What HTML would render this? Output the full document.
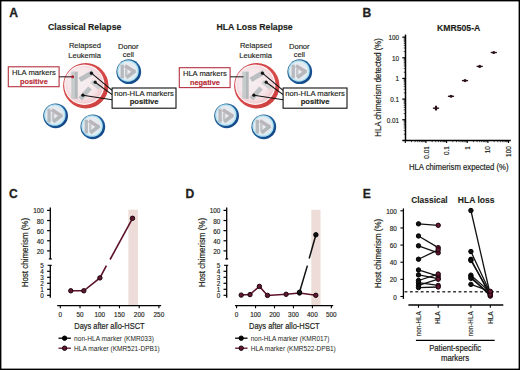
<!DOCTYPE html><html><head><meta charset="utf-8"><style>html,body{margin:0;padding:0;background:#fff;}svg{display:block;}</style></head><body>
<svg width="520" height="370" viewBox="0 0 520 370" font-family='"Liberation Sans", sans-serif'>
<defs><radialGradient id="pinkg" cx="0.45" cy="0.45" r="0.55"><stop offset="0" stop-color="#f5eef0"/><stop offset="0.7" stop-color="#f6e6e9"/><stop offset="1" stop-color="#f1ccd1"/></radialGradient><linearGradient id="redg" x1="0" y1="0" x2="1" y2="1"><stop offset="0" stop-color="#c83a44"/><stop offset="0.5" stop-color="#d84a4a"/><stop offset="1" stop-color="#cc3c3c"/></linearGradient><linearGradient id="blueg" x1="0" y1="0" x2="1" y2="1"><stop offset="0" stop-color="#2f5f80"/><stop offset="0.55" stop-color="#1d5c9c"/><stop offset="1" stop-color="#0d3c7c"/></linearGradient><radialGradient id="dong" cx="0.45" cy="0.45" r="0.6"><stop offset="0" stop-color="#eceef3"/><stop offset="0.75" stop-color="#e4eaf0"/><stop offset="1" stop-color="#d6eef6"/></radialGradient></defs>
<rect x="0" y="0" width="520" height="370" fill="#fff"/>
<text x="9.2" y="16.7" font-size="12.1" font-weight="bold" text-anchor="start" fill="#231f20" stroke="#231f20" stroke-width="0.3">A</text>
<text x="48.1" y="29.8" font-size="8.7" font-weight="bold" text-anchor="start" fill="#231f20" textLength="73.2" lengthAdjust="spacingAndGlyphs" stroke="#231f20" stroke-width="0.15">Classical Relapse</text>
<text x="84.9" y="48.3" font-size="7.8" text-anchor="middle" fill="#231f20" textLength="32.0" lengthAdjust="spacingAndGlyphs" stroke="#231f20" stroke-width="0.15">Relapsed</text>
<text x="84.6" y="57.6" font-size="7.8" text-anchor="middle" fill="#231f20" textLength="32.5" lengthAdjust="spacingAndGlyphs" stroke="#231f20" stroke-width="0.15">Leukemia</text>
<text x="128.3" y="48.6" font-size="7.8" text-anchor="middle" fill="#231f20" textLength="20.7" lengthAdjust="spacingAndGlyphs" stroke="#231f20" stroke-width="0.15">Donor</text>
<text x="128.4" y="57.0" font-size="7.8" text-anchor="middle" fill="#231f20" textLength="11.2" lengthAdjust="spacingAndGlyphs" stroke="#231f20" stroke-width="0.15">cell</text>
<rect x="8.30" y="66.80" width="50.8" height="19.9" fill="#fff" stroke="#b4323f" stroke-width="1.1"/>
<text x="33.900000000000006" y="74.7" font-size="7.8" text-anchor="middle" fill="#231f20" textLength="44.0" lengthAdjust="spacingAndGlyphs" stroke="#231f20" stroke-width="0.15">HLA markers</text>
<text x="33.900000000000006" y="83.6" font-size="7.5" font-weight="bold" text-anchor="middle" fill="#b82a36" textLength="27.9" lengthAdjust="spacingAndGlyphs" stroke="#b82a36" stroke-width="0.15">positive</text>
<circle cx="85.80" cy="85.70" r="22.70" fill="url(#redg)"/>
<circle cx="84.30" cy="84.70" r="20.20" fill="#fdf4f5"/>
<circle cx="84.30" cy="84.70" r="19.00" fill="url(#pinkg)"/>
<line x1="72.90" y1="71.60" x2="72.90" y2="98.80" stroke="#c6cbcc" stroke-width="3.20"/><line x1="76.10" y1="71.60" x2="76.10" y2="98.80" stroke="#b3b8ba" stroke-width="3.20"/><line x1="79.80" y1="79.80" x2="93.10" y2="72.20" stroke="#bcbfc2" stroke-width="5.00"/><line x1="91.60" y1="81.40" x2="99.80" y2="88.00" stroke="#cdd0d3" stroke-width="4.40"/><line x1="80.30" y1="98.80" x2="90.00" y2="88.00" stroke="#bec1c4" stroke-width="4.80"/>
<circle cx="128.75" cy="71.70" r="12.40" fill="url(#blueg)"/>
<circle cx="128.00" cy="70.95" r="10.75" fill="#aee2f2"/>
<circle cx="128.00" cy="70.95" r="9.50" fill="url(#dong)"/>
<line x1="122.25" y1="64.70" x2="122.25" y2="78.30" stroke="#b6b9bd" stroke-width="3.30"/><line x1="126.25" y1="68.50" x2="126.25" y2="76.50" stroke="#c2c4c8" stroke-width="2.40"/><line x1="124.95" y1="65.70" x2="135.15" y2="72.10" stroke="#bab6bb" stroke-width="3.50"/><line x1="126.35" y1="77.70" x2="135.15" y2="70.90" stroke="#b5b8bb" stroke-width="3.50"/>
<circle cx="55.60" cy="115.80" r="12.40" fill="url(#blueg)"/>
<circle cx="54.85" cy="115.05" r="10.75" fill="#aee2f2"/>
<circle cx="54.85" cy="115.05" r="9.50" fill="url(#dong)"/>
<line x1="49.10" y1="108.80" x2="49.10" y2="122.40" stroke="#b6b9bd" stroke-width="3.30"/><line x1="53.10" y1="112.60" x2="53.10" y2="120.60" stroke="#c2c4c8" stroke-width="2.40"/><line x1="51.80" y1="109.80" x2="62.00" y2="116.20" stroke="#bab6bb" stroke-width="3.50"/><line x1="53.20" y1="121.80" x2="62.00" y2="115.00" stroke="#b5b8bb" stroke-width="3.50"/>
<circle cx="92.80" cy="126.80" r="12.40" fill="url(#blueg)"/>
<circle cx="92.05" cy="126.05" r="10.75" fill="#aee2f2"/>
<circle cx="92.05" cy="126.05" r="9.50" fill="url(#dong)"/>
<line x1="86.30" y1="119.80" x2="86.30" y2="133.40" stroke="#b6b9bd" stroke-width="3.30"/><line x1="90.30" y1="123.60" x2="90.30" y2="131.60" stroke="#c2c4c8" stroke-width="2.40"/><line x1="89.00" y1="120.80" x2="99.20" y2="127.20" stroke="#bab6bb" stroke-width="3.50"/><line x1="90.40" y1="132.80" x2="99.20" y2="126.00" stroke="#b5b8bb" stroke-width="3.50"/>
<line x1="59.10" y1="76.80" x2="72.50" y2="76.80" stroke="#3a1c20" stroke-width="1.1"/>
<circle cx="72.60" cy="76.80" r="1.50" fill="#b3212f"/>
<line x1="91.40" y1="73.20" x2="112.10" y2="90.30" stroke="#111" stroke-width="1.1"/>
<circle cx="91.40" cy="73.20" r="1.60" fill="#111"/>
<line x1="95.20" y1="82.20" x2="112.10" y2="94.60" stroke="#111" stroke-width="1.1"/>
<circle cx="95.20" cy="82.20" r="1.60" fill="#111"/>
<line x1="82.90" y1="95.20" x2="112.10" y2="99.80" stroke="#111" stroke-width="1.1"/>
<circle cx="82.90" cy="95.20" r="1.60" fill="#111"/>
<rect x="112.10" y="88.0" width="63.9" height="20.2" fill="#fff" stroke="#111" stroke-width="1.1"/>
<text x="144.1" y="95.6" font-size="7.8" text-anchor="middle" fill="#231f20" textLength="59.7" lengthAdjust="spacingAndGlyphs" stroke="#231f20" stroke-width="0.15">non-HLA markers</text>
<text x="144.1" y="104.2" font-size="7.5" font-weight="bold" text-anchor="middle" fill="#231f20" textLength="28.8" lengthAdjust="spacingAndGlyphs" stroke="#231f20" stroke-width="0.15">positive</text>
<text x="216.5" y="29.9" font-size="8.7" font-weight="bold" text-anchor="start" fill="#231f20" textLength="76.2" lengthAdjust="spacingAndGlyphs" stroke="#231f20" stroke-width="0.15">HLA Loss Relapse</text>
<text x="255.9" y="48.3" font-size="7.8" text-anchor="middle" fill="#231f20" textLength="32.0" lengthAdjust="spacingAndGlyphs" stroke="#231f20" stroke-width="0.15">Relapsed</text>
<text x="255.6" y="57.6" font-size="7.8" text-anchor="middle" fill="#231f20" textLength="32.5" lengthAdjust="spacingAndGlyphs" stroke="#231f20" stroke-width="0.15">Leukemia</text>
<text x="299.3" y="48.6" font-size="7.8" text-anchor="middle" fill="#231f20" textLength="20.7" lengthAdjust="spacingAndGlyphs" stroke="#231f20" stroke-width="0.15">Donor</text>
<text x="299.4" y="57.0" font-size="7.8" text-anchor="middle" fill="#231f20" textLength="11.2" lengthAdjust="spacingAndGlyphs" stroke="#231f20" stroke-width="0.15">cell</text>
<rect x="179.30" y="67.70" width="50.8" height="19.9" fill="#fff" stroke="#b4323f" stroke-width="1.1"/>
<text x="204.9" y="75.60000000000001" font-size="7.8" text-anchor="middle" fill="#231f20" textLength="44.0" lengthAdjust="spacingAndGlyphs" stroke="#231f20" stroke-width="0.15">HLA markers</text>
<text x="204.9" y="84.5" font-size="7.5" font-weight="bold" text-anchor="middle" fill="#b82a36" textLength="30.0" lengthAdjust="spacingAndGlyphs" stroke="#b82a36" stroke-width="0.15">negative</text>
<circle cx="256.80" cy="85.70" r="22.70" fill="url(#redg)"/>
<circle cx="255.30" cy="84.70" r="20.20" fill="#fdf4f5"/>
<circle cx="255.30" cy="84.70" r="19.00" fill="url(#pinkg)"/>
<line x1="243.90" y1="71.60" x2="243.90" y2="98.80" stroke="#c6cbcc" stroke-width="3.20"/><line x1="247.10" y1="71.60" x2="247.10" y2="98.80" stroke="#b3b8ba" stroke-width="3.20"/><line x1="250.80" y1="79.80" x2="264.10" y2="72.20" stroke="#bcbfc2" stroke-width="5.00"/><line x1="262.60" y1="81.40" x2="270.80" y2="88.00" stroke="#cdd0d3" stroke-width="4.40"/><line x1="251.30" y1="98.80" x2="261.00" y2="88.00" stroke="#bec1c4" stroke-width="4.80"/>
<circle cx="299.75" cy="71.70" r="12.40" fill="url(#blueg)"/>
<circle cx="299.00" cy="70.95" r="10.75" fill="#aee2f2"/>
<circle cx="299.00" cy="70.95" r="9.50" fill="url(#dong)"/>
<line x1="293.25" y1="64.70" x2="293.25" y2="78.30" stroke="#b6b9bd" stroke-width="3.30"/><line x1="297.25" y1="68.50" x2="297.25" y2="76.50" stroke="#c2c4c8" stroke-width="2.40"/><line x1="295.95" y1="65.70" x2="306.15" y2="72.10" stroke="#bab6bb" stroke-width="3.50"/><line x1="297.35" y1="77.70" x2="306.15" y2="70.90" stroke="#b5b8bb" stroke-width="3.50"/>
<circle cx="226.60" cy="115.80" r="12.40" fill="url(#blueg)"/>
<circle cx="225.85" cy="115.05" r="10.75" fill="#aee2f2"/>
<circle cx="225.85" cy="115.05" r="9.50" fill="url(#dong)"/>
<line x1="220.10" y1="108.80" x2="220.10" y2="122.40" stroke="#b6b9bd" stroke-width="3.30"/><line x1="224.10" y1="112.60" x2="224.10" y2="120.60" stroke="#c2c4c8" stroke-width="2.40"/><line x1="222.80" y1="109.80" x2="233.00" y2="116.20" stroke="#bab6bb" stroke-width="3.50"/><line x1="224.20" y1="121.80" x2="233.00" y2="115.00" stroke="#b5b8bb" stroke-width="3.50"/>
<circle cx="263.80" cy="126.80" r="12.40" fill="url(#blueg)"/>
<circle cx="263.05" cy="126.05" r="10.75" fill="#aee2f2"/>
<circle cx="263.05" cy="126.05" r="9.50" fill="url(#dong)"/>
<line x1="257.30" y1="119.80" x2="257.30" y2="133.40" stroke="#b6b9bd" stroke-width="3.30"/><line x1="261.30" y1="123.60" x2="261.30" y2="131.60" stroke="#c2c4c8" stroke-width="2.40"/><line x1="260.00" y1="120.80" x2="270.20" y2="127.20" stroke="#bab6bb" stroke-width="3.50"/><line x1="261.40" y1="132.80" x2="270.20" y2="126.00" stroke="#b5b8bb" stroke-width="3.50"/>
<line x1="230.10" y1="76.80" x2="243.50" y2="76.80" stroke="#2a2a2a" stroke-width="1.1"/>
<line x1="262.40" y1="73.20" x2="283.10" y2="90.30" stroke="#111" stroke-width="1.1"/>
<circle cx="262.40" cy="73.20" r="1.60" fill="#111"/>
<line x1="266.20" y1="82.20" x2="283.10" y2="94.60" stroke="#111" stroke-width="1.1"/>
<circle cx="266.20" cy="82.20" r="1.60" fill="#111"/>
<line x1="253.90" y1="95.20" x2="283.10" y2="99.80" stroke="#111" stroke-width="1.1"/>
<circle cx="253.90" cy="95.20" r="1.60" fill="#111"/>
<rect x="283.10" y="88.0" width="63.9" height="20.2" fill="#fff" stroke="#111" stroke-width="1.1"/>
<text x="315.1" y="95.6" font-size="7.8" text-anchor="middle" fill="#231f20" textLength="59.7" lengthAdjust="spacingAndGlyphs" stroke="#231f20" stroke-width="0.15">non-HLA markers</text>
<text x="315.1" y="104.2" font-size="7.5" font-weight="bold" text-anchor="middle" fill="#231f20" textLength="28.8" lengthAdjust="spacingAndGlyphs" stroke="#231f20" stroke-width="0.15">positive</text>
<text x="362.4" y="16.7" font-size="12.1" font-weight="bold" text-anchor="start" fill="#231f20" stroke="#231f20" stroke-width="0.3">B</text>
<text x="458.7" y="30.8" font-size="8.6" font-weight="bold" text-anchor="middle" fill="#231f20" textLength="43.2" lengthAdjust="spacingAndGlyphs" stroke="#231f20" stroke-width="0.15">KMR505-A</text>
<line x1="405.50" y1="34.60" x2="405.50" y2="141.00" stroke="#000" stroke-width="1.5"/>
<line x1="402.30" y1="140.40" x2="510.80" y2="140.40" stroke="#000" stroke-width="1.5"/>
<line x1="403.70" y1="134.18" x2="405.50" y2="134.18" stroke="#000" stroke-width="0.7"/>
<line x1="403.70" y1="130.55" x2="405.50" y2="130.55" stroke="#000" stroke-width="0.7"/>
<line x1="403.70" y1="127.97" x2="405.50" y2="127.97" stroke="#000" stroke-width="0.7"/>
<line x1="403.70" y1="125.97" x2="405.50" y2="125.97" stroke="#000" stroke-width="0.7"/>
<line x1="403.70" y1="124.33" x2="405.50" y2="124.33" stroke="#000" stroke-width="0.7"/>
<line x1="403.70" y1="122.95" x2="405.50" y2="122.95" stroke="#000" stroke-width="0.7"/>
<line x1="403.70" y1="121.75" x2="405.50" y2="121.75" stroke="#000" stroke-width="0.7"/>
<line x1="403.70" y1="120.69" x2="405.50" y2="120.69" stroke="#000" stroke-width="0.7"/>
<line x1="405.30" y1="140.40" x2="405.30" y2="143.00" stroke="#000" stroke-width="1.1"/>
<line x1="411.52" y1="140.40" x2="411.52" y2="142.20" stroke="#000" stroke-width="0.7"/>
<line x1="415.15" y1="140.40" x2="415.15" y2="142.20" stroke="#000" stroke-width="0.7"/>
<line x1="417.73" y1="140.40" x2="417.73" y2="142.20" stroke="#000" stroke-width="0.7"/>
<line x1="419.73" y1="140.40" x2="419.73" y2="142.20" stroke="#000" stroke-width="0.7"/>
<line x1="421.37" y1="140.40" x2="421.37" y2="142.20" stroke="#000" stroke-width="0.7"/>
<line x1="422.75" y1="140.40" x2="422.75" y2="142.20" stroke="#000" stroke-width="0.7"/>
<line x1="423.95" y1="140.40" x2="423.95" y2="142.20" stroke="#000" stroke-width="0.7"/>
<line x1="425.01" y1="140.40" x2="425.01" y2="142.20" stroke="#000" stroke-width="0.7"/>
<line x1="402.30" y1="119.75" x2="405.50" y2="119.75" stroke="#000" stroke-width="1.2"/>
<text x="399.1" y="122.75" font-size="6.4" text-anchor="end" fill="#231f20" stroke="#231f20" stroke-width="0.15">0.01</text>
<line x1="403.70" y1="113.53" x2="405.50" y2="113.53" stroke="#000" stroke-width="0.7"/>
<line x1="403.70" y1="109.90" x2="405.50" y2="109.90" stroke="#000" stroke-width="0.7"/>
<line x1="403.70" y1="107.32" x2="405.50" y2="107.32" stroke="#000" stroke-width="0.7"/>
<line x1="403.70" y1="105.32" x2="405.50" y2="105.32" stroke="#000" stroke-width="0.7"/>
<line x1="403.70" y1="103.68" x2="405.50" y2="103.68" stroke="#000" stroke-width="0.7"/>
<line x1="403.70" y1="102.30" x2="405.50" y2="102.30" stroke="#000" stroke-width="0.7"/>
<line x1="403.70" y1="101.10" x2="405.50" y2="101.10" stroke="#000" stroke-width="0.7"/>
<line x1="403.70" y1="100.04" x2="405.50" y2="100.04" stroke="#000" stroke-width="0.7"/>
<line x1="425.95" y1="140.40" x2="425.95" y2="143.00" stroke="#000" stroke-width="1.1"/>
<text x="428.55" y="146.2" font-size="6.4" text-anchor="end" fill="#231f20" transform="rotate(-90 428.55 146.2)" stroke="#231f20" stroke-width="0.15">0.01</text>
<line x1="432.17" y1="140.40" x2="432.17" y2="142.20" stroke="#000" stroke-width="0.7"/>
<line x1="435.80" y1="140.40" x2="435.80" y2="142.20" stroke="#000" stroke-width="0.7"/>
<line x1="438.38" y1="140.40" x2="438.38" y2="142.20" stroke="#000" stroke-width="0.7"/>
<line x1="440.38" y1="140.40" x2="440.38" y2="142.20" stroke="#000" stroke-width="0.7"/>
<line x1="442.02" y1="140.40" x2="442.02" y2="142.20" stroke="#000" stroke-width="0.7"/>
<line x1="443.40" y1="140.40" x2="443.40" y2="142.20" stroke="#000" stroke-width="0.7"/>
<line x1="444.60" y1="140.40" x2="444.60" y2="142.20" stroke="#000" stroke-width="0.7"/>
<line x1="445.66" y1="140.40" x2="445.66" y2="142.20" stroke="#000" stroke-width="0.7"/>
<line x1="402.30" y1="99.10" x2="405.50" y2="99.10" stroke="#000" stroke-width="1.2"/>
<text x="399.1" y="102.10000000000001" font-size="6.4" text-anchor="end" fill="#231f20" stroke="#231f20" stroke-width="0.15">0.1</text>
<line x1="403.70" y1="92.88" x2="405.50" y2="92.88" stroke="#000" stroke-width="0.7"/>
<line x1="403.70" y1="89.25" x2="405.50" y2="89.25" stroke="#000" stroke-width="0.7"/>
<line x1="403.70" y1="86.67" x2="405.50" y2="86.67" stroke="#000" stroke-width="0.7"/>
<line x1="403.70" y1="84.67" x2="405.50" y2="84.67" stroke="#000" stroke-width="0.7"/>
<line x1="403.70" y1="83.03" x2="405.50" y2="83.03" stroke="#000" stroke-width="0.7"/>
<line x1="403.70" y1="81.65" x2="405.50" y2="81.65" stroke="#000" stroke-width="0.7"/>
<line x1="403.70" y1="80.45" x2="405.50" y2="80.45" stroke="#000" stroke-width="0.7"/>
<line x1="403.70" y1="79.39" x2="405.50" y2="79.39" stroke="#000" stroke-width="0.7"/>
<line x1="446.60" y1="140.40" x2="446.60" y2="143.00" stroke="#000" stroke-width="1.1"/>
<text x="449.20000000000005" y="146.2" font-size="6.4" text-anchor="end" fill="#231f20" transform="rotate(-90 449.20000000000005 146.2)" stroke="#231f20" stroke-width="0.15">0.1</text>
<line x1="452.82" y1="140.40" x2="452.82" y2="142.20" stroke="#000" stroke-width="0.7"/>
<line x1="456.45" y1="140.40" x2="456.45" y2="142.20" stroke="#000" stroke-width="0.7"/>
<line x1="459.03" y1="140.40" x2="459.03" y2="142.20" stroke="#000" stroke-width="0.7"/>
<line x1="461.03" y1="140.40" x2="461.03" y2="142.20" stroke="#000" stroke-width="0.7"/>
<line x1="462.67" y1="140.40" x2="462.67" y2="142.20" stroke="#000" stroke-width="0.7"/>
<line x1="464.05" y1="140.40" x2="464.05" y2="142.20" stroke="#000" stroke-width="0.7"/>
<line x1="465.25" y1="140.40" x2="465.25" y2="142.20" stroke="#000" stroke-width="0.7"/>
<line x1="466.31" y1="140.40" x2="466.31" y2="142.20" stroke="#000" stroke-width="0.7"/>
<line x1="402.30" y1="78.45" x2="405.50" y2="78.45" stroke="#000" stroke-width="1.2"/>
<text x="399.1" y="81.45000000000002" font-size="6.4" text-anchor="end" fill="#231f20" stroke="#231f20" stroke-width="0.15">1</text>
<line x1="403.70" y1="72.23" x2="405.50" y2="72.23" stroke="#000" stroke-width="0.7"/>
<line x1="403.70" y1="68.60" x2="405.50" y2="68.60" stroke="#000" stroke-width="0.7"/>
<line x1="403.70" y1="66.02" x2="405.50" y2="66.02" stroke="#000" stroke-width="0.7"/>
<line x1="403.70" y1="64.02" x2="405.50" y2="64.02" stroke="#000" stroke-width="0.7"/>
<line x1="403.70" y1="62.38" x2="405.50" y2="62.38" stroke="#000" stroke-width="0.7"/>
<line x1="403.70" y1="61.00" x2="405.50" y2="61.00" stroke="#000" stroke-width="0.7"/>
<line x1="403.70" y1="59.80" x2="405.50" y2="59.80" stroke="#000" stroke-width="0.7"/>
<line x1="403.70" y1="58.74" x2="405.50" y2="58.74" stroke="#000" stroke-width="0.7"/>
<line x1="467.25" y1="140.40" x2="467.25" y2="143.00" stroke="#000" stroke-width="1.1"/>
<text x="469.85" y="146.2" font-size="6.4" text-anchor="end" fill="#231f20" transform="rotate(-90 469.85 146.2)" stroke="#231f20" stroke-width="0.15">1</text>
<line x1="473.47" y1="140.40" x2="473.47" y2="142.20" stroke="#000" stroke-width="0.7"/>
<line x1="477.10" y1="140.40" x2="477.10" y2="142.20" stroke="#000" stroke-width="0.7"/>
<line x1="479.68" y1="140.40" x2="479.68" y2="142.20" stroke="#000" stroke-width="0.7"/>
<line x1="481.68" y1="140.40" x2="481.68" y2="142.20" stroke="#000" stroke-width="0.7"/>
<line x1="483.32" y1="140.40" x2="483.32" y2="142.20" stroke="#000" stroke-width="0.7"/>
<line x1="484.70" y1="140.40" x2="484.70" y2="142.20" stroke="#000" stroke-width="0.7"/>
<line x1="485.90" y1="140.40" x2="485.90" y2="142.20" stroke="#000" stroke-width="0.7"/>
<line x1="486.96" y1="140.40" x2="486.96" y2="142.20" stroke="#000" stroke-width="0.7"/>
<line x1="402.30" y1="57.80" x2="405.50" y2="57.80" stroke="#000" stroke-width="1.2"/>
<text x="399.1" y="60.80000000000001" font-size="6.4" text-anchor="end" fill="#231f20" stroke="#231f20" stroke-width="0.15">10</text>
<line x1="403.70" y1="51.58" x2="405.50" y2="51.58" stroke="#000" stroke-width="0.7"/>
<line x1="403.70" y1="47.95" x2="405.50" y2="47.95" stroke="#000" stroke-width="0.7"/>
<line x1="403.70" y1="45.37" x2="405.50" y2="45.37" stroke="#000" stroke-width="0.7"/>
<line x1="403.70" y1="43.37" x2="405.50" y2="43.37" stroke="#000" stroke-width="0.7"/>
<line x1="403.70" y1="41.73" x2="405.50" y2="41.73" stroke="#000" stroke-width="0.7"/>
<line x1="403.70" y1="40.35" x2="405.50" y2="40.35" stroke="#000" stroke-width="0.7"/>
<line x1="403.70" y1="39.15" x2="405.50" y2="39.15" stroke="#000" stroke-width="0.7"/>
<line x1="403.70" y1="38.09" x2="405.50" y2="38.09" stroke="#000" stroke-width="0.7"/>
<line x1="487.90" y1="140.40" x2="487.90" y2="143.00" stroke="#000" stroke-width="1.1"/>
<text x="490.5" y="146.2" font-size="6.4" text-anchor="end" fill="#231f20" transform="rotate(-90 490.5 146.2)" stroke="#231f20" stroke-width="0.15">10</text>
<line x1="494.12" y1="140.40" x2="494.12" y2="142.20" stroke="#000" stroke-width="0.7"/>
<line x1="497.75" y1="140.40" x2="497.75" y2="142.20" stroke="#000" stroke-width="0.7"/>
<line x1="500.33" y1="140.40" x2="500.33" y2="142.20" stroke="#000" stroke-width="0.7"/>
<line x1="502.33" y1="140.40" x2="502.33" y2="142.20" stroke="#000" stroke-width="0.7"/>
<line x1="503.97" y1="140.40" x2="503.97" y2="142.20" stroke="#000" stroke-width="0.7"/>
<line x1="505.35" y1="140.40" x2="505.35" y2="142.20" stroke="#000" stroke-width="0.7"/>
<line x1="506.55" y1="140.40" x2="506.55" y2="142.20" stroke="#000" stroke-width="0.7"/>
<line x1="507.61" y1="140.40" x2="507.61" y2="142.20" stroke="#000" stroke-width="0.7"/>
<line x1="402.30" y1="37.15" x2="405.50" y2="37.15" stroke="#000" stroke-width="1.2"/>
<text x="399.1" y="40.150000000000006" font-size="6.4" text-anchor="end" fill="#231f20" stroke="#231f20" stroke-width="0.15">100</text>
<line x1="508.55" y1="140.40" x2="508.55" y2="143.00" stroke="#000" stroke-width="1.1"/>
<text x="511.15000000000003" y="146.2" font-size="6.4" text-anchor="end" fill="#231f20" transform="rotate(-90 511.15000000000003 146.2)" stroke="#231f20" stroke-width="0.15">100</text>
<text x="458.7" y="169.9" font-size="8.7" text-anchor="middle" fill="#231f20" textLength="99.6" lengthAdjust="spacingAndGlyphs" stroke="#231f20" stroke-width="0.2">HLA chimerism expected (%)</text>
<text x="381.3" y="87.4" font-size="8.7" text-anchor="middle" fill="#231f20" transform="rotate(-90 381.3 87.4)" textLength="98.5" lengthAdjust="spacingAndGlyphs" stroke="#231f20" stroke-width="0.2">HLA chimerism detected (%)</text>
<line x1="432.90" y1="108.20" x2="439.10" y2="108.20" stroke="#2a1218" stroke-width="1.3"/>
<line x1="436.00" y1="105.80" x2="436.00" y2="110.60" stroke="#2a1218" stroke-width="2.0"/>
<circle cx="436" cy="108.2" r="1.55" fill="#2a1218"/>
<line x1="447.90" y1="96.30" x2="454.10" y2="96.30" stroke="#2a1218" stroke-width="1.3"/>
<circle cx="451" cy="96.3" r="1.55" fill="#2a1218"/>
<line x1="461.90" y1="80.60" x2="468.10" y2="80.60" stroke="#2a1218" stroke-width="1.3"/>
<circle cx="465" cy="80.6" r="1.55" fill="#2a1218"/>
<line x1="476.60" y1="66.40" x2="482.80" y2="66.40" stroke="#2a1218" stroke-width="1.3"/>
<circle cx="479.7" cy="66.4" r="1.55" fill="#2a1218"/>
<line x1="490.70" y1="52.50" x2="496.90" y2="52.50" stroke="#2a1218" stroke-width="1.3"/>
<circle cx="493.8" cy="52.5" r="1.55" fill="#2a1218"/>
<text x="8.9" y="198.2" font-size="12.1" font-weight="bold" text-anchor="start" fill="#231f20" stroke="#231f20" stroke-width="0.3">C</text>
<rect x="128.4" y="209.7" width="9.5" height="95.3" fill="#eddcd8"/>
<line x1="50.30" y1="207.40" x2="50.30" y2="259.30" stroke="#000" stroke-width="1.3"/>
<line x1="48.80" y1="258.90" x2="51.80" y2="258.90" stroke="#000" stroke-width="1.2"/>
<line x1="47.10" y1="210.40" x2="50.30" y2="210.40" stroke="#000" stroke-width="1.2"/>
<text x="43.9" y="213.4" font-size="6.4" text-anchor="end" fill="#231f20" stroke="#231f20" stroke-width="0.15">100</text>
<line x1="47.10" y1="220.52" x2="50.30" y2="220.52" stroke="#000" stroke-width="1.2"/>
<text x="43.9" y="223.52" font-size="6.4" text-anchor="end" fill="#231f20" stroke="#231f20" stroke-width="0.15">80</text>
<line x1="47.10" y1="230.64" x2="50.30" y2="230.64" stroke="#000" stroke-width="1.2"/>
<text x="43.9" y="233.64000000000001" font-size="6.4" text-anchor="end" fill="#231f20" stroke="#231f20" stroke-width="0.15">60</text>
<line x1="47.10" y1="240.76" x2="50.30" y2="240.76" stroke="#000" stroke-width="1.2"/>
<text x="43.9" y="243.76" font-size="6.4" text-anchor="end" fill="#231f20" stroke="#231f20" stroke-width="0.15">40</text>
<line x1="47.10" y1="250.88" x2="50.30" y2="250.88" stroke="#000" stroke-width="1.2"/>
<text x="43.9" y="253.88" font-size="6.4" text-anchor="end" fill="#231f20" stroke="#231f20" stroke-width="0.15">20</text>
<line x1="50.30" y1="265.00" x2="50.30" y2="297.80" stroke="#000" stroke-width="1.3"/>
<line x1="47.60" y1="265.30" x2="51.80" y2="265.30" stroke="#000" stroke-width="1.1"/>
<line x1="47.10" y1="295.30" x2="50.30" y2="295.30" stroke="#000" stroke-width="1.2"/>
<text x="43.9" y="298.3" font-size="6.4" text-anchor="end" fill="#231f20" stroke="#231f20" stroke-width="0.15">0</text>
<line x1="47.10" y1="289.30" x2="50.30" y2="289.30" stroke="#000" stroke-width="1.2"/>
<text x="43.9" y="292.3" font-size="6.4" text-anchor="end" fill="#231f20" stroke="#231f20" stroke-width="0.15">1</text>
<line x1="47.10" y1="283.30" x2="50.30" y2="283.30" stroke="#000" stroke-width="1.2"/>
<text x="43.9" y="286.3" font-size="6.4" text-anchor="end" fill="#231f20" stroke="#231f20" stroke-width="0.15">2</text>
<line x1="47.10" y1="277.30" x2="50.30" y2="277.30" stroke="#000" stroke-width="1.2"/>
<text x="43.9" y="280.3" font-size="6.4" text-anchor="end" fill="#231f20" stroke="#231f20" stroke-width="0.15">3</text>
<line x1="47.10" y1="271.30" x2="50.30" y2="271.30" stroke="#000" stroke-width="1.2"/>
<text x="43.9" y="274.3" font-size="6.4" text-anchor="end" fill="#231f20" stroke="#231f20" stroke-width="0.15">4</text>
<text x="43.9" y="268.3" font-size="6.4" text-anchor="end" fill="#231f20" stroke="#231f20" stroke-width="0.15">5</text>
<text x="27.9" y="252.6" font-size="9.0" text-anchor="middle" fill="#231f20" transform="rotate(-90 27.9 252.6)" textLength="69.4" lengthAdjust="spacingAndGlyphs" stroke="#231f20" stroke-width="0.2">Host chimerism (%)</text>
<line x1="57.20" y1="305.60" x2="161.10" y2="305.60" stroke="#000" stroke-width="1.3"/>
<line x1="60.30" y1="305.60" x2="60.30" y2="308.30" stroke="#000" stroke-width="1.1"/>
<text x="60.3" y="317.1" font-size="6.4" text-anchor="middle" fill="#231f20" stroke="#231f20" stroke-width="0.15">0</text>
<line x1="80.02" y1="305.60" x2="80.02" y2="308.30" stroke="#000" stroke-width="1.1"/>
<text x="80.02" y="317.1" font-size="6.4" text-anchor="middle" fill="#231f20" stroke="#231f20" stroke-width="0.15">50</text>
<line x1="99.74" y1="305.60" x2="99.74" y2="308.30" stroke="#000" stroke-width="1.1"/>
<text x="99.74" y="317.1" font-size="6.4" text-anchor="middle" fill="#231f20" stroke="#231f20" stroke-width="0.15">100</text>
<line x1="119.46" y1="305.60" x2="119.46" y2="308.30" stroke="#000" stroke-width="1.1"/>
<text x="119.46" y="317.1" font-size="6.4" text-anchor="middle" fill="#231f20" stroke="#231f20" stroke-width="0.15">150</text>
<line x1="139.18" y1="305.60" x2="139.18" y2="308.30" stroke="#000" stroke-width="1.1"/>
<text x="139.18" y="317.1" font-size="6.4" text-anchor="middle" fill="#231f20" stroke="#231f20" stroke-width="0.15">200</text>
<line x1="158.90" y1="305.60" x2="158.90" y2="308.30" stroke="#000" stroke-width="1.1"/>
<text x="158.89999999999998" y="317.1" font-size="6.4" text-anchor="middle" fill="#231f20" stroke="#231f20" stroke-width="0.15">250</text>
<text x="109.45" y="329.1" font-size="9.0" text-anchor="middle" fill="#231f20" textLength="70.3" lengthAdjust="spacingAndGlyphs" stroke="#231f20" stroke-width="0.2">Days after allo-HSCT</text>
<polyline points="70.8,290.8 83.8,290.8 99.9,277.9 106.4,265.6" fill="none" stroke="#5c1229" stroke-width="1.6"/>
<polyline points="110.1,259.5 132.5,218.3" fill="none" stroke="#5c1229" stroke-width="1.6"/>
<circle cx="70.80" cy="290.80" r="2.20" fill="#621733" stroke="#1a0508" stroke-width="1.0"/>
<circle cx="83.80" cy="290.80" r="2.20" fill="#621733" stroke="#1a0508" stroke-width="1.0"/>
<circle cx="99.90" cy="277.90" r="2.20" fill="#621733" stroke="#1a0508" stroke-width="1.0"/>
<circle cx="132.50" cy="218.30" r="2.20" fill="#621733" stroke="#1a0508" stroke-width="1.0"/>
<line x1="58.50" y1="338.20" x2="70.90" y2="338.20" stroke="#000" stroke-width="1.3"/>
<circle cx="64.60" cy="338.20" r="2.20" fill="#000" stroke="#000" stroke-width="1.0"/>
<line x1="58.50" y1="348.20" x2="70.90" y2="348.20" stroke="#5c1229" stroke-width="1.3"/>
<circle cx="64.60" cy="348.20" r="2.20" fill="#621733" stroke="#1a0508" stroke-width="1.0"/>
<text x="74.1" y="340.59999999999997" font-size="6.9" text-anchor="start" fill="#231f20" textLength="79.8" lengthAdjust="spacingAndGlyphs">non-HLA marker (KMR033)</text>
<text x="74.1" y="350.59999999999997" font-size="6.9" text-anchor="start" fill="#231f20" textLength="85.7" lengthAdjust="spacingAndGlyphs">HLA marker (KMR521-DPB1)</text>
<text x="185.6" y="198.2" font-size="12.1" font-weight="bold" text-anchor="start" fill="#231f20" stroke="#231f20" stroke-width="0.3">D</text>
<rect x="311.3" y="209.8" width="9.2" height="95.2" fill="#eddcd8"/>
<line x1="226.70" y1="207.40" x2="226.70" y2="259.30" stroke="#000" stroke-width="1.3"/>
<line x1="225.20" y1="258.90" x2="228.20" y2="258.90" stroke="#000" stroke-width="1.2"/>
<line x1="223.50" y1="210.40" x2="226.70" y2="210.40" stroke="#000" stroke-width="1.2"/>
<text x="220.3" y="213.4" font-size="6.4" text-anchor="end" fill="#231f20" stroke="#231f20" stroke-width="0.15">100</text>
<line x1="223.50" y1="220.52" x2="226.70" y2="220.52" stroke="#000" stroke-width="1.2"/>
<text x="220.3" y="223.52" font-size="6.4" text-anchor="end" fill="#231f20" stroke="#231f20" stroke-width="0.15">80</text>
<line x1="223.50" y1="230.64" x2="226.70" y2="230.64" stroke="#000" stroke-width="1.2"/>
<text x="220.3" y="233.64000000000001" font-size="6.4" text-anchor="end" fill="#231f20" stroke="#231f20" stroke-width="0.15">60</text>
<line x1="223.50" y1="240.76" x2="226.70" y2="240.76" stroke="#000" stroke-width="1.2"/>
<text x="220.3" y="243.76" font-size="6.4" text-anchor="end" fill="#231f20" stroke="#231f20" stroke-width="0.15">40</text>
<line x1="223.50" y1="250.88" x2="226.70" y2="250.88" stroke="#000" stroke-width="1.2"/>
<text x="220.3" y="253.88" font-size="6.4" text-anchor="end" fill="#231f20" stroke="#231f20" stroke-width="0.15">20</text>
<line x1="226.70" y1="265.00" x2="226.70" y2="297.80" stroke="#000" stroke-width="1.3"/>
<line x1="224.00" y1="265.30" x2="228.20" y2="265.30" stroke="#000" stroke-width="1.1"/>
<line x1="223.50" y1="295.30" x2="226.70" y2="295.30" stroke="#000" stroke-width="1.2"/>
<text x="220.3" y="298.3" font-size="6.4" text-anchor="end" fill="#231f20" stroke="#231f20" stroke-width="0.15">0</text>
<line x1="223.50" y1="289.30" x2="226.70" y2="289.30" stroke="#000" stroke-width="1.2"/>
<text x="220.3" y="292.3" font-size="6.4" text-anchor="end" fill="#231f20" stroke="#231f20" stroke-width="0.15">1</text>
<line x1="223.50" y1="283.30" x2="226.70" y2="283.30" stroke="#000" stroke-width="1.2"/>
<text x="220.3" y="286.3" font-size="6.4" text-anchor="end" fill="#231f20" stroke="#231f20" stroke-width="0.15">2</text>
<line x1="223.50" y1="277.30" x2="226.70" y2="277.30" stroke="#000" stroke-width="1.2"/>
<text x="220.3" y="280.3" font-size="6.4" text-anchor="end" fill="#231f20" stroke="#231f20" stroke-width="0.15">3</text>
<line x1="223.50" y1="271.30" x2="226.70" y2="271.30" stroke="#000" stroke-width="1.2"/>
<text x="220.3" y="274.3" font-size="6.4" text-anchor="end" fill="#231f20" stroke="#231f20" stroke-width="0.15">4</text>
<text x="220.3" y="268.3" font-size="6.4" text-anchor="end" fill="#231f20" stroke="#231f20" stroke-width="0.15">5</text>
<text x="204.9" y="252.6" font-size="9.0" text-anchor="middle" fill="#231f20" transform="rotate(-90 204.9 252.6)" textLength="69.4" lengthAdjust="spacingAndGlyphs" stroke="#231f20" stroke-width="0.2">Host chimerism (%)</text>
<line x1="235.00" y1="305.60" x2="333.20" y2="305.60" stroke="#000" stroke-width="1.3"/>
<line x1="236.60" y1="305.60" x2="236.60" y2="308.30" stroke="#000" stroke-width="1.1"/>
<text x="236.6" y="317.1" font-size="6.4" text-anchor="middle" fill="#231f20" stroke="#231f20" stroke-width="0.15">0</text>
<line x1="255.55" y1="305.60" x2="255.55" y2="308.30" stroke="#000" stroke-width="1.1"/>
<text x="255.54999999999998" y="317.1" font-size="6.4" text-anchor="middle" fill="#231f20" stroke="#231f20" stroke-width="0.15">100</text>
<line x1="274.50" y1="305.60" x2="274.50" y2="308.30" stroke="#000" stroke-width="1.1"/>
<text x="274.5" y="317.1" font-size="6.4" text-anchor="middle" fill="#231f20" stroke="#231f20" stroke-width="0.15">200</text>
<line x1="293.45" y1="305.60" x2="293.45" y2="308.30" stroke="#000" stroke-width="1.1"/>
<text x="293.45" y="317.1" font-size="6.4" text-anchor="middle" fill="#231f20" stroke="#231f20" stroke-width="0.15">300</text>
<line x1="312.40" y1="305.60" x2="312.40" y2="308.30" stroke="#000" stroke-width="1.1"/>
<text x="312.4" y="317.1" font-size="6.4" text-anchor="middle" fill="#231f20" stroke="#231f20" stroke-width="0.15">400</text>
<line x1="331.35" y1="305.60" x2="331.35" y2="308.30" stroke="#000" stroke-width="1.1"/>
<text x="331.35" y="317.1" font-size="6.4" text-anchor="middle" fill="#231f20" stroke="#231f20" stroke-width="0.15">500</text>
<text x="284.35" y="329.2" font-size="9.0" text-anchor="middle" fill="#231f20" textLength="70.6" lengthAdjust="spacingAndGlyphs" stroke="#231f20" stroke-width="0.2">Days after allo-HSCT</text>
<polyline points="241.2,295.1 250,294.6 259.4,286.4 267.5,295.4 286.1,294.3 299.5,293.0 315.8,295.3" fill="none" stroke="#5c1229" stroke-width="1.5"/>
<polyline points="299.5,292.3 307.4,265.6" fill="none" stroke="#111" stroke-width="1.5"/>
<polyline points="309.2,258.5 315.9,234.8" fill="none" stroke="#111" stroke-width="1.5"/>
<circle cx="241.20" cy="295.10" r="2.20" fill="#621733" stroke="#1a0508" stroke-width="1.0"/>
<circle cx="250.00" cy="294.60" r="2.20" fill="#621733" stroke="#1a0508" stroke-width="1.0"/>
<circle cx="259.40" cy="286.40" r="2.20" fill="#621733" stroke="#1a0508" stroke-width="1.0"/>
<circle cx="267.50" cy="295.40" r="2.20" fill="#621733" stroke="#1a0508" stroke-width="1.0"/>
<circle cx="286.10" cy="294.30" r="2.20" fill="#621733" stroke="#1a0508" stroke-width="1.0"/>
<circle cx="299.50" cy="293.00" r="2.20" fill="#621733" stroke="#1a0508" stroke-width="1.0"/>
<circle cx="315.80" cy="295.30" r="2.20" fill="#621733" stroke="#1a0508" stroke-width="1.0"/>
<circle cx="299.50" cy="292.30" r="2.20" fill="#1a1a1a" stroke="#000" stroke-width="1.0"/>
<circle cx="315.90" cy="234.80" r="2.20" fill="#111" stroke="#000" stroke-width="1.0"/>
<line x1="235.10" y1="338.20" x2="247.50" y2="338.20" stroke="#000" stroke-width="1.3"/>
<circle cx="241.20" cy="338.20" r="2.20" fill="#000" stroke="#000" stroke-width="1.0"/>
<line x1="235.10" y1="348.20" x2="247.50" y2="348.20" stroke="#5c1229" stroke-width="1.3"/>
<circle cx="241.20" cy="348.20" r="2.20" fill="#621733" stroke="#1a0508" stroke-width="1.0"/>
<text x="250.7" y="340.59999999999997" font-size="6.9" text-anchor="start" fill="#231f20" textLength="78.7" lengthAdjust="spacingAndGlyphs">non-HLA marker (KMR017)</text>
<text x="250.7" y="350.59999999999997" font-size="6.9" text-anchor="start" fill="#231f20" textLength="85.1" lengthAdjust="spacingAndGlyphs">HLA marker (KMR522-DPB1)</text>
<text x="362.7" y="198.1" font-size="12.1" font-weight="bold" text-anchor="start" fill="#231f20" stroke="#231f20" stroke-width="0.3">E</text>
<text x="429.45" y="203.4" font-size="8.6" font-weight="bold" text-anchor="middle" fill="#231f20" textLength="36.5" lengthAdjust="spacingAndGlyphs" stroke="#231f20" stroke-width="0.1">Classical</text>
<text x="476.2" y="203.4" font-size="8.6" font-weight="bold" text-anchor="middle" fill="#231f20" textLength="36.8" lengthAdjust="spacingAndGlyphs" stroke="#231f20" stroke-width="0.1">HLA loss</text>
<line x1="403.40" y1="208.40" x2="403.40" y2="298.90" stroke="#000" stroke-width="1.3"/>
<line x1="400.40" y1="296.50" x2="403.40" y2="296.50" stroke="#000" stroke-width="1.1"/>
<text x="396.9" y="299.5" font-size="6.4" text-anchor="end" fill="#231f20" stroke="#231f20" stroke-width="0.15">0</text>
<line x1="400.40" y1="279.36" x2="403.40" y2="279.36" stroke="#000" stroke-width="1.1"/>
<text x="396.9" y="282.36" font-size="6.4" text-anchor="end" fill="#231f20" stroke="#231f20" stroke-width="0.15">20</text>
<line x1="400.40" y1="262.22" x2="403.40" y2="262.22" stroke="#000" stroke-width="1.1"/>
<text x="396.9" y="265.22" font-size="6.4" text-anchor="end" fill="#231f20" stroke="#231f20" stroke-width="0.15">40</text>
<line x1="400.40" y1="245.08" x2="403.40" y2="245.08" stroke="#000" stroke-width="1.1"/>
<text x="396.9" y="248.07999999999998" font-size="6.4" text-anchor="end" fill="#231f20" stroke="#231f20" stroke-width="0.15">60</text>
<line x1="400.40" y1="227.94" x2="403.40" y2="227.94" stroke="#000" stroke-width="1.1"/>
<text x="396.9" y="230.94" font-size="6.4" text-anchor="end" fill="#231f20" stroke="#231f20" stroke-width="0.15">80</text>
<line x1="400.40" y1="210.80" x2="403.40" y2="210.80" stroke="#000" stroke-width="1.1"/>
<text x="396.9" y="213.8" font-size="6.4" text-anchor="end" fill="#231f20" stroke="#231f20" stroke-width="0.15">100</text>
<text x="380.8" y="253.5" font-size="9.0" text-anchor="middle" fill="#231f20" transform="rotate(-90 380.8 253.5)" textLength="69.4" lengthAdjust="spacingAndGlyphs" stroke="#231f20" stroke-width="0.2">Host chimerism (%)</text>
<line x1="404.5" y1="291.8" x2="499" y2="291.8" stroke="#3c3c3c" stroke-width="1.5" stroke-dasharray="2.9,2.5"/>
<line x1="408.40" y1="305.00" x2="503.30" y2="305.00" stroke="#000" stroke-width="1.3"/>
<line x1="418.50" y1="305.00" x2="418.50" y2="307.80" stroke="#000" stroke-width="1.1"/>
<text x="420.8" y="311.4" font-size="6.8" text-anchor="end" fill="#231f20" transform="rotate(-90 420.8 311.4)" textLength="24.8" lengthAdjust="spacingAndGlyphs" stroke="#231f20" stroke-width="0.15">non-HLA</text>
<line x1="438.20" y1="305.00" x2="438.20" y2="307.80" stroke="#000" stroke-width="1.1"/>
<text x="440.5" y="311.4" font-size="6.8" text-anchor="end" fill="#231f20" transform="rotate(-90 440.5 311.4)" textLength="12.6" lengthAdjust="spacingAndGlyphs" stroke="#231f20" stroke-width="0.15">HLA</text>
<line x1="470.90" y1="305.00" x2="470.90" y2="307.80" stroke="#000" stroke-width="1.1"/>
<text x="473.2" y="311.4" font-size="6.8" text-anchor="end" fill="#231f20" transform="rotate(-90 473.2 311.4)" textLength="24.8" lengthAdjust="spacingAndGlyphs" stroke="#231f20" stroke-width="0.15">non-HLA</text>
<line x1="490.30" y1="305.00" x2="490.30" y2="307.80" stroke="#000" stroke-width="1.1"/>
<text x="492.6" y="311.4" font-size="6.8" text-anchor="end" fill="#231f20" transform="rotate(-90 492.6 311.4)" textLength="12.6" lengthAdjust="spacingAndGlyphs" stroke="#231f20" stroke-width="0.15">HLA</text>
<line x1="415.90" y1="340.30" x2="494.70" y2="340.30" stroke="#000" stroke-width="1.2"/>
<text x="455.2" y="350.9" font-size="8.3" text-anchor="middle" fill="#231f20" textLength="52.0" lengthAdjust="spacingAndGlyphs" stroke="#231f20" stroke-width="0.2">Patient-specific</text>
<text x="455.0" y="360.8" font-size="8.3" text-anchor="middle" fill="#231f20" textLength="28.2" lengthAdjust="spacingAndGlyphs" stroke="#231f20" stroke-width="0.2">markers</text>
<line x1="418.50" y1="223.84" x2="438.20" y2="225.31" stroke="#111" stroke-width="1.3"/>
<line x1="418.50" y1="235.95" x2="438.20" y2="247.63" stroke="#111" stroke-width="1.3"/>
<line x1="418.50" y1="245.81" x2="438.20" y2="252.82" stroke="#111" stroke-width="1.3"/>
<line x1="418.50" y1="259.22" x2="438.20" y2="249.79" stroke="#111" stroke-width="1.3"/>
<line x1="418.50" y1="269.94" x2="438.20" y2="276.17" stroke="#111" stroke-width="1.3"/>
<line x1="418.50" y1="274.88" x2="438.20" y2="278.59" stroke="#111" stroke-width="1.3"/>
<line x1="418.50" y1="280.50" x2="438.20" y2="274.01" stroke="#111" stroke-width="1.3"/>
<line x1="418.50" y1="282.66" x2="438.20" y2="285.43" stroke="#111" stroke-width="1.3"/>
<line x1="418.50" y1="285.43" x2="438.20" y2="279.20" stroke="#111" stroke-width="1.3"/>
<line x1="418.50" y1="287.59" x2="438.20" y2="286.99" stroke="#111" stroke-width="1.3"/>
<circle cx="438.20" cy="225.31" r="2.20" fill="#621733" stroke="#1a0508" stroke-width="1.0"/>
<circle cx="438.20" cy="247.63" r="2.20" fill="#621733" stroke="#1a0508" stroke-width="1.0"/>
<circle cx="438.20" cy="252.82" r="2.20" fill="#621733" stroke="#1a0508" stroke-width="1.0"/>
<circle cx="438.20" cy="249.79" r="2.20" fill="#621733" stroke="#1a0508" stroke-width="1.0"/>
<circle cx="438.20" cy="276.17" r="2.20" fill="#621733" stroke="#1a0508" stroke-width="1.0"/>
<circle cx="438.20" cy="278.59" r="2.20" fill="#621733" stroke="#1a0508" stroke-width="1.0"/>
<circle cx="438.20" cy="274.01" r="2.20" fill="#621733" stroke="#1a0508" stroke-width="1.0"/>
<circle cx="438.20" cy="285.43" r="2.20" fill="#621733" stroke="#1a0508" stroke-width="1.0"/>
<circle cx="438.20" cy="279.20" r="2.20" fill="#621733" stroke="#1a0508" stroke-width="1.0"/>
<circle cx="438.20" cy="286.99" r="2.20" fill="#621733" stroke="#1a0508" stroke-width="1.0"/>
<circle cx="418.50" cy="223.84" r="2.20" fill="#111" stroke="#000" stroke-width="1.0"/>
<circle cx="418.50" cy="235.95" r="2.20" fill="#111" stroke="#000" stroke-width="1.0"/>
<circle cx="418.50" cy="245.81" r="2.20" fill="#111" stroke="#000" stroke-width="1.0"/>
<circle cx="418.50" cy="259.22" r="2.20" fill="#111" stroke="#000" stroke-width="1.0"/>
<circle cx="418.50" cy="269.94" r="2.20" fill="#111" stroke="#000" stroke-width="1.0"/>
<circle cx="418.50" cy="274.88" r="2.20" fill="#111" stroke="#000" stroke-width="1.0"/>
<circle cx="418.50" cy="280.50" r="2.20" fill="#111" stroke="#000" stroke-width="1.0"/>
<circle cx="418.50" cy="282.66" r="2.20" fill="#111" stroke="#000" stroke-width="1.0"/>
<circle cx="418.50" cy="285.43" r="2.20" fill="#111" stroke="#000" stroke-width="1.0"/>
<circle cx="418.50" cy="287.59" r="2.20" fill="#111" stroke="#000" stroke-width="1.0"/>
<line x1="470.90" y1="210.52" x2="490.30" y2="294.77" stroke="#111" stroke-width="1.3"/>
<line x1="470.90" y1="251.52" x2="490.30" y2="293.04" stroke="#111" stroke-width="1.3"/>
<line x1="470.90" y1="259.31" x2="490.30" y2="295.63" stroke="#111" stroke-width="1.3"/>
<line x1="470.90" y1="260.52" x2="490.30" y2="293.90" stroke="#111" stroke-width="1.3"/>
<line x1="470.90" y1="275.13" x2="490.30" y2="292.18" stroke="#111" stroke-width="1.3"/>
<line x1="470.90" y1="276.69" x2="490.30" y2="296.07" stroke="#111" stroke-width="1.3"/>
<line x1="470.90" y1="278.33" x2="490.30" y2="294.34" stroke="#111" stroke-width="1.3"/>
<line x1="470.90" y1="284.39" x2="490.30" y2="291.31" stroke="#111" stroke-width="1.3"/>
<circle cx="490.30" cy="294.77" r="2.20" fill="#621733" stroke="#1a0508" stroke-width="1.0"/>
<circle cx="490.30" cy="293.04" r="2.20" fill="#621733" stroke="#1a0508" stroke-width="1.0"/>
<circle cx="490.30" cy="295.63" r="2.20" fill="#621733" stroke="#1a0508" stroke-width="1.0"/>
<circle cx="490.30" cy="293.90" r="2.20" fill="#621733" stroke="#1a0508" stroke-width="1.0"/>
<circle cx="490.30" cy="292.18" r="2.20" fill="#621733" stroke="#1a0508" stroke-width="1.0"/>
<circle cx="490.30" cy="296.07" r="2.20" fill="#621733" stroke="#1a0508" stroke-width="1.0"/>
<circle cx="490.30" cy="294.34" r="2.20" fill="#621733" stroke="#1a0508" stroke-width="1.0"/>
<circle cx="490.30" cy="291.31" r="2.20" fill="#621733" stroke="#1a0508" stroke-width="1.0"/>
<circle cx="470.90" cy="210.52" r="2.20" fill="#111" stroke="#000" stroke-width="1.0"/>
<circle cx="470.90" cy="251.52" r="2.20" fill="#111" stroke="#000" stroke-width="1.0"/>
<circle cx="470.90" cy="259.31" r="2.20" fill="#111" stroke="#000" stroke-width="1.0"/>
<circle cx="470.90" cy="260.52" r="2.20" fill="#111" stroke="#000" stroke-width="1.0"/>
<circle cx="470.90" cy="275.13" r="2.20" fill="#111" stroke="#000" stroke-width="1.0"/>
<circle cx="470.90" cy="276.69" r="2.20" fill="#111" stroke="#000" stroke-width="1.0"/>
<circle cx="470.90" cy="278.33" r="2.20" fill="#111" stroke="#000" stroke-width="1.0"/>
<circle cx="470.90" cy="284.39" r="2.20" fill="#111" stroke="#000" stroke-width="1.0"/>
<rect x="0.65" y="0.65" width="518.7" height="368.7" fill="none" stroke="#000" stroke-width="1.5"/>
</svg></body></html>
